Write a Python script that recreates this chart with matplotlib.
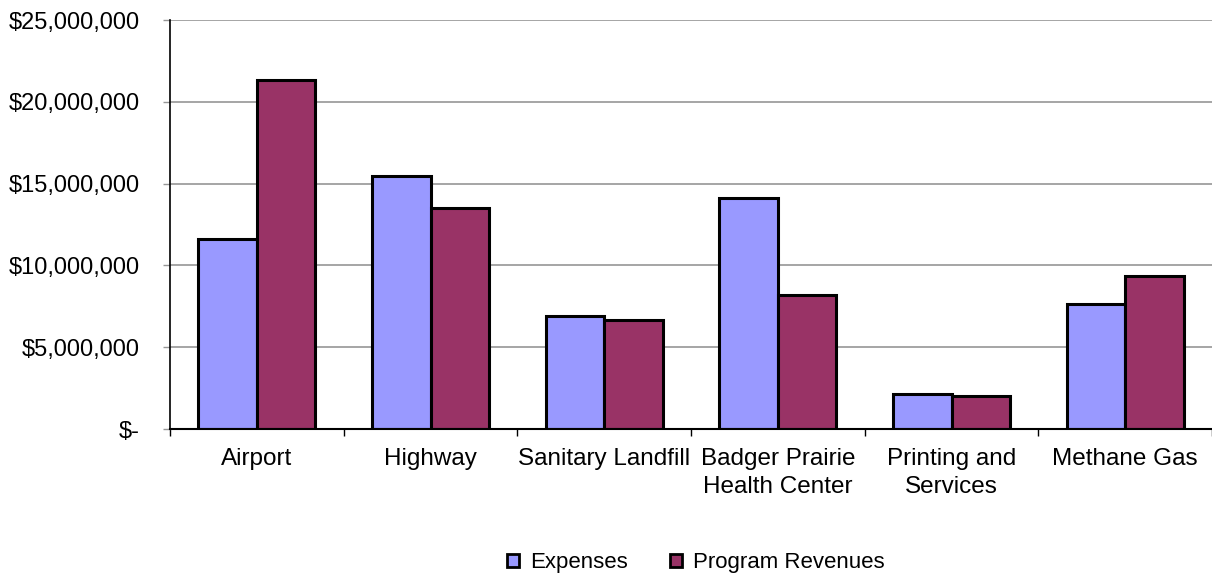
import matplotlib.pyplot as plt
import numpy as np
from matplotlib.patches import Patch
from matplotlib.ticker import FixedLocator, FuncFormatter

plt.rcParams["font.family"] = ["Liberation Sans", "DejaVu Sans"]

categories = [
    "Airport",
    "Highway",
    "Sanitary Landfill",
    "Badger Prairie\nHealth Center",
    "Printing and\nServices",
    "Methane Gas",
]
expenses = [11_610_000, 15_460_000, 6_910_000, 14_120_000, 2_140_000, 7_640_000]
program_revenues = [21_330_000, 13_510_000, 6_660_000, 8_190_000, 2_020_000, 9_350_000]

exp_color = "#9999ff"
rev_color = "#993366"


def money(v, _pos):
    if v == 0:
        return "$-"
    return f"${v:,.0f}"


fig = plt.figure(figsize=(12.12, 5.75), dpi=100)
ax = fig.add_axes([0.1403, 0.2539, 0.8597, 0.7113])

x = np.arange(len(categories))
width = 0.337
ax.bar(x - width / 2, expenses, width, color=exp_color, edgecolor="black", linewidth=2.2, zorder=3)
ax.bar(x + width / 2, program_revenues, width, color=rev_color, edgecolor="black", linewidth=2.2, zorder=3)

ax.set_xlim(-0.5, len(categories) - 0.5)
ax.set_ylim(0, 25_000_000)
ax.yaxis.set_major_locator(FixedLocator(np.arange(0, 25_000_001, 5_000_000)))
ax.yaxis.set_major_formatter(FuncFormatter(money))
ax.grid(axis="y", color="#969696", linewidth=1.2, zorder=0)

# boundary ticks between groups, labels centred on each group
ax.xaxis.set_major_locator(FixedLocator(np.arange(-0.5, len(categories), 1.0)))
ax.xaxis.set_major_formatter(FuncFormatter(lambda v, p: ""))
ax.xaxis.set_minor_locator(FixedLocator(x))
ax.set_xticklabels(categories, minor=True, linespacing=1.3)
ax.tick_params(axis="x", which="major", length=5, width=1, color="black")
ax.tick_params(axis="x", which="minor", length=0, pad=14, labelsize=17.5)
ax.tick_params(axis="y", length=5, width=1, color="#969696", pad=17, labelsize=17)

for side in ("top", "right"):
    ax.spines[side].set_visible(False)
ax.spines["left"].set_linewidth(1.2)
ax.spines["bottom"].set_linewidth(1.5)
ax.spines["bottom"].set_zorder(4)

handles = [
    Patch(facecolor=exp_color, edgecolor="black", linewidth=2, label="Expenses"),
    Patch(facecolor=rev_color, edgecolor="black", linewidth=2, label="Program Revenues"),
]
fig.legend(
    handles=handles,
    loc="center",
    bbox_to_anchor=(0.574, 0.021),
    ncol=2,
    frameon=False,
    fontsize=16,
    handlelength=0.55,
    handleheight=0.55,
    handletextpad=0.5,
    columnspacing=1.9,
)

fig.savefig("out.png", dpi=100)
